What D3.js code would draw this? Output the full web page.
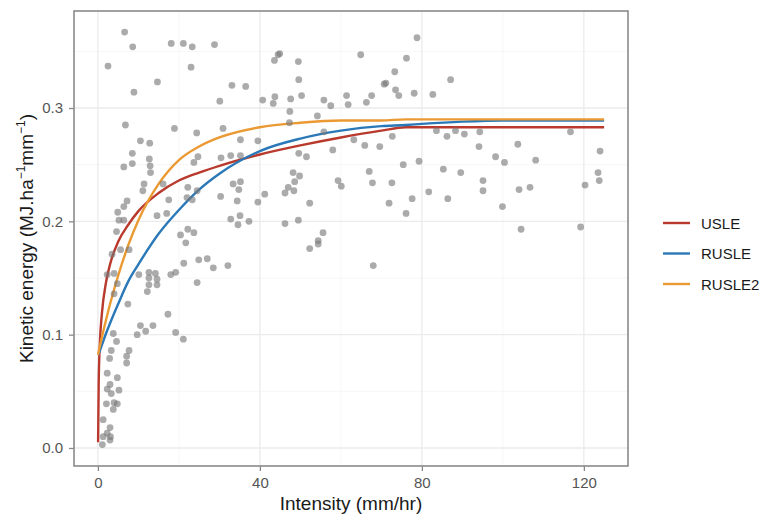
<!DOCTYPE html>
<html lang="en">
    <head>
        <meta charset="utf-8">
        <title>Kinetic energy vs intensity</title>
        <script type="text/javascript" src="https://cdn.jsdelivr.net/npm/d3@7"></script>
        <style>
            body { margin: 0; background: #fff; }
            text { font-family: "Liberation Sans", Arial, sans-serif; }
        </style>
    </head>
    <body>
        <script type="text/javascript">
            var w = 765;
            var h = 516;

            // observed points (intensity mm/hr, kinetic energy)
            var intensity = [6.6, 8.6, 2.5, 18.1, 21.1, 23.3, 28.8, 23.0, 14.7, 8.9, 33.1, 36.5, 30.1, 6.8, 18.9, 24.4, 30.9, 10.5, 12.8, 8.5,
                6.4, 8.5, 12.7, 12.9, 13.0, 24.7, 23.7, 30.4, 32.8, 35.2, 35.2, 39.5, 11.4, 11.1, 16.1, 22.2, 24.5, 7.2, 6.4, 4.9,
                5.2, 6.4, 4.6, 17.5, 22.0, 23.3, 30.3, 33.4, 35.2, 34.8, 34.4, 39.5, 14.6, 17.0, 32.8, 35.1, 34.6, 37.3, 20.4, 22.2,
                23.7, 3.5, 5.6, 7.7, 21.7, 21.2, 24.9, 27.0, 28.5, 32.1, 24.5, 2.3, 4.0, 4.8, 4.0, 10.1, 12.6, 14.2, 12.6, 14.6,
                12.6, 14.6, 12.2, 18.0, 19.2, 7.4, 17.3, 10.5, 11.8, 9.7, 13.6, 19.2, 21.1, 3.8, 4.6, 3.3, 2.9, 7.7, 7.1, 7.1,
                2.3, 4.8, 3.0, 2.3, 5.2, 3.3, 2.1, 4.0, 4.8, 3.8, 1.3, 3.0, 2.3, 3.1, 3.0, 1.1, 1.3,
                44.5, 44.9, 43.6, 49.5, 49.6, 64.9, 78.8, 76.2, 73.3, 70.7, 71.1, 73.5, 74.3, 78.1, 82.7, 40.7, 43.7, 43.3, 47.6, 50.3,
                47.4, 47.3, 55.8, 57.5, 61.4, 61.8, 66.3, 67.6, 54.2, 55.8, 63.2, 65.9, 69.6, 72.7, 83.6, 49.6, 51.5, 58.0, 75.4, 79.3,
                85.3, 48.2, 49.8, 48.6, 47.0, 48.4, 46.2, 41.2, 59.3, 60.1, 67.0, 67.8, 72.6, 81.7, 77.6, 52.3, 71.9, 76.1, 46.2, 49.5,
                55.6, 54.4, 52.3, 54.4, 68.0,
                87.1, 86.2, 88.3, 90.5, 94.3, 94.1, 103.7, 98.2, 100.4, 108.1, 116.7, 124.0, 123.5, 123.8, 120.3, 89.6, 95.1, 95.1, 104.0, 106.7,
                86.4, 99.9, 104.5, 119.2];
            var energy = [0.367, 0.354, 0.337, 0.357, 0.357, 0.354, 0.356, 0.336, 0.323, 0.314, 0.320, 0.319, 0.306, 0.285, 0.282, 0.278, 0.282, 0.271, 0.269, 0.260,
                0.248, 0.251, 0.255, 0.249, 0.243, 0.257, 0.252, 0.256, 0.258, 0.258, 0.272, 0.271, 0.233, 0.227, 0.233, 0.230, 0.227, 0.218, 0.213, 0.208,
                0.201, 0.201, 0.191, 0.219, 0.221, 0.219, 0.222, 0.233, 0.235, 0.228, 0.218, 0.217, 0.205, 0.207, 0.202, 0.205, 0.197, 0.200, 0.188, 0.193,
                0.190, 0.171, 0.175, 0.175, 0.181, 0.163, 0.166, 0.167, 0.159, 0.161, 0.146, 0.153, 0.154, 0.145, 0.136, 0.153, 0.155, 0.154, 0.150, 0.149,
                0.144, 0.144, 0.138, 0.153, 0.155, 0.127, 0.118, 0.108, 0.103, 0.100, 0.108, 0.102, 0.096, 0.101, 0.094, 0.086, 0.079, 0.086, 0.081, 0.075,
                0.066, 0.062, 0.056, 0.052, 0.051, 0.048, 0.039, 0.040, 0.039, 0.034, 0.025, 0.018, 0.013, 0.010, 0.007, 0.003, 0.010,
                0.347, 0.348, 0.342, 0.341, 0.325, 0.347, 0.362, 0.344, 0.332, 0.321, 0.322, 0.316, 0.311, 0.313, 0.312, 0.307, 0.310, 0.304, 0.308, 0.311,
                0.297, 0.287, 0.307, 0.302, 0.311, 0.303, 0.305, 0.311, 0.293, 0.279, 0.272, 0.267, 0.266, 0.275, 0.280, 0.260, 0.257, 0.263, 0.250, 0.253,
                0.246, 0.243, 0.240, 0.235, 0.230, 0.227, 0.225, 0.224, 0.236, 0.231, 0.244, 0.234, 0.234, 0.226, 0.220, 0.216, 0.216, 0.207, 0.198, 0.201,
                0.190, 0.183, 0.176, 0.180, 0.161,
                0.325, 0.275, 0.280, 0.277, 0.279, 0.266, 0.268, 0.257, 0.252, 0.254, 0.279, 0.262, 0.243, 0.236, 0.232, 0.243, 0.236, 0.227, 0.228, 0.230,
                0.220, 0.213, 0.193, 0.195];

            // model curves at these intensities
            var curve_x = [0.05, 0.2, 0.5, 1, 2, 3, 5, 7.5, 10, 15, 20, 25, 30, 40, 50, 60, 70, 76, 80, 90, 100, 110, 125];
            var usle = [0.005, 0.058, 0.093, 0.119, 0.146, 0.162, 0.182, 0.197, 0.209, 0.225, 0.236, 0.243, 0.249, 0.259, 0.267, 0.274, 0.280, 0.283, 0.283, 0.283, 0.283, 0.283, 0.283];
            var rusle = [0.082, 0.083, 0.086, 0.091, 0.101, 0.110, 0.127, 0.147, 0.162, 0.189, 0.210, 0.228, 0.242, 0.262, 0.273, 0.280, 0.284, 0.285, 0.286, 0.288, 0.289, 0.289, 0.289];
            var rusle2 = [0.082, 0.085, 0.090, 0.098, 0.113, 0.127, 0.152, 0.179, 0.201, 0.233, 0.254, 0.266, 0.274, 0.283, 0.287, 0.289, 0.289, 0.290, 0.290, 0.290, 0.290, 0.290, 0.290];

            var series_names = ["USLE", "RUSLE", "RUSLE2"];
            var series_values = [usle, rusle, rusle2];
            var colors = ["#b93a2d", "#2a78b8", "#eb9a33"];

            var x_ticks = [0, 40, 80, 120];
            var x_minor = [20, 60, 100];
            var y_ticks = [0, 0.1, 0.2, 0.3];
            var y_minor = [0.05, 0.15, 0.25, 0.35];

            // panel edges (note: "top" is a reserved window property)
            var pL = 74, pR = 628, pT = 11, pB = 466;

            var svg = d3.select("body").append("svg").attr("width", w).attr("height", h);

            var xscale = d3.scaleLinear().domain([-5.9, 130.9]).range([pL, pR]);
            var yscale = d3.scaleLinear().domain([-0.0159, 0.3856]).range([pB, pT]);

            // grid
            svg.append("g").selectAll("line").data(x_minor).enter().append("line")
               .attr("x1", function (d) { return xscale(d); }).attr("x2", function (d) { return xscale(d); })
               .attr("y1", pT).attr("y2", pB)
               .attr("stroke", "#f4f4f4").attr("stroke-width", 0.8);
            svg.append("g").selectAll("line").data(y_minor).enter().append("line")
               .attr("y1", function (d) { return yscale(d); }).attr("y2", function (d) { return yscale(d); })
               .attr("x1", pL).attr("x2", pR)
               .attr("stroke", "#f4f4f4").attr("stroke-width", 0.8);
            svg.append("g").selectAll("line").data(x_ticks).enter().append("line")
               .attr("x1", function (d) { return xscale(d); }).attr("x2", function (d) { return xscale(d); })
               .attr("y1", pT).attr("y2", pB)
               .attr("stroke", "#ebebeb").attr("stroke-width", 1.3);
            svg.append("g").selectAll("line").data(y_ticks).enter().append("line")
               .attr("y1", function (d) { return yscale(d); }).attr("y2", function (d) { return yscale(d); })
               .attr("x1", pL).attr("x2", pR)
               .attr("stroke", "#ebebeb").attr("stroke-width", 1.3);

            // axes
            var xaxis = svg.append("g").attr("transform", "translate(0," + pB + ")")
               .call(d3.axisBottom(xscale).tickValues(x_ticks).tickSize(5).tickPadding(6).tickFormat(d3.format("d")));
            var yaxis = svg.append("g").attr("transform", "translate(" + pL + ",0)")
               .call(d3.axisLeft(yscale).tickValues(y_ticks).tickSize(5).tickPadding(6).tickFormat(d3.format(".1f")));
            [xaxis, yaxis].forEach(function (a) {
                a.select(".domain").remove();
                a.selectAll(".tick line").attr("stroke", "#888").attr("stroke-width", 1.3);
                a.selectAll(".tick text").attr("fill", "#555").attr("font-size", "15px")
                 .attr("font-family", "Liberation Sans, Arial, sans-serif");
            });

            // curves
            var line = d3.line()
                .x(function (d) { return xscale(d[0]); })
                .y(function (d) { return yscale(d[1]); })
                .curve(d3.curveMonotoneX);
            series_values.forEach(function (vals, k) {
                svg.append("path")
                   .datum(curve_x.map(function (x, i) { return [x, vals[i]]; }))
                   .attr("d", line)
                   .attr("fill", "none")
                   .attr("stroke", colors[k])
                   .attr("stroke-width", 2.4);
            });

            // points
            svg.append("g").selectAll("circle").data(intensity).enter().append("circle")
               .attr("cx", function (d) { return xscale(d); })
               .attr("cy", function (d, i) { return yscale(energy[i]); })
               .attr("r", 3.4)
               .attr("fill", "#777")
               .attr("fill-opacity", 0.62);

            // panel border
            svg.append("rect").attr("x", pL).attr("y", pT)
               .attr("width", pR - pL).attr("height", pB - pT)
               .attr("fill", "none").attr("stroke", "#8a8a8a").attr("stroke-width", 1.6);

            // titles
            svg.append("text").text("Intensity (mm/hr)")
               .attr("x", (pL + pR) / 2).attr("y", 510)
               .attr("text-anchor", "middle").attr("font-size", "19px").attr("fill", "#1a1a1a");

            var yt = svg.append("text")
               .attr("transform", "translate(33," + ((pT + pB) / 2) + ") rotate(-90)")
               .attr("text-anchor", "middle").attr("font-size", "19px").attr("fill", "#1a1a1a");
            yt.append("tspan").text("Kinetic energy (MJ.ha");
            yt.append("tspan").text("\u22121").attr("font-size", "12px").attr("dy", "-8");
            yt.append("tspan").text("mm").attr("dy", "8");
            yt.append("tspan").text("\u22121").attr("font-size", "12px").attr("dy", "-8");
            yt.append("tspan").text(")").attr("dy", "8");

            // legend
            var legend = svg.append("g").selectAll("g").data(series_names).enter().append("g")
               .attr("transform", function (d, i) { return "translate(663," + (223 + i * 30.5) + ")"; });
            legend.append("line").attr("x1", 0).attr("x2", 27).attr("y1", 0).attr("y2", 0)
               .attr("stroke", function (d, i) { return colors[i]; }).attr("stroke-width", 2.4);
            legend.append("text").text(function (d) { return d; })
               .attr("x", 38).attr("y", 5.5).attr("font-size", "15px").attr("fill", "#1a1a1a");
        </script>
    </body>
</html>
